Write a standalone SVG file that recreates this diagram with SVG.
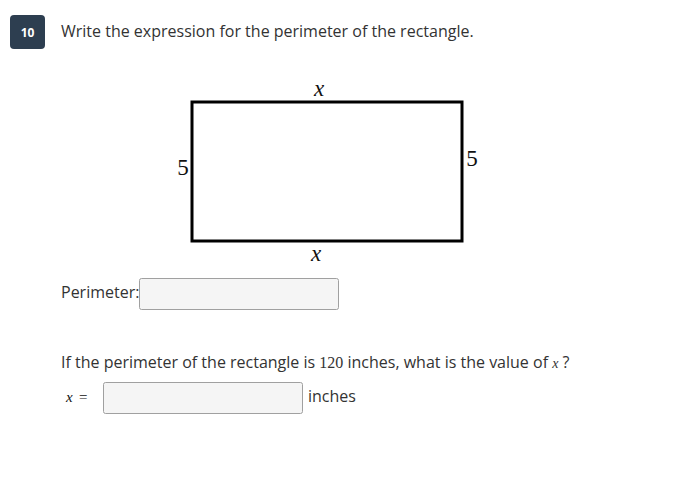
<svg xmlns="http://www.w3.org/2000/svg" width="677" height="484" viewBox="0 0 677 484">
<style>
.t{font-family:"Open Sans","Liberation Sans",sans-serif;font-size:16px;fill:#333}
.m{font-family:"Liberation Serif","DejaVu Serif",serif;fill:#111}
.i{font-family:"Liberation Serif","DejaVu Serif",serif;font-style:italic}
.box{fill:#f5f5f5;stroke:#a0a0a0;stroke-width:1}
</style>
<rect width="677" height="484" fill="#fff"/>
<rect x="10" y="15" width="35" height="34" rx="4" fill="#2d3e50"/>
<text x="27.5" y="37" text-anchor="middle" font-family="'Open Sans','Liberation Sans',sans-serif" font-size="12" font-weight="bold" fill="#fff">10</text>
<text class="t" x="61" y="37">Write the expression for the perimeter of the rectangle.</text>
<rect x="192" y="102" width="270" height="139" fill="none" stroke="#000" stroke-width="3"/>
<text class="m i" x="319" y="96" font-size="23" text-anchor="middle">x</text>
<text class="m i" x="316" y="261" font-size="23" text-anchor="middle">x</text>
<text class="m" x="183" y="175" font-size="23" text-anchor="middle">5</text>
<text class="m" x="472" y="166" font-size="23" text-anchor="middle">5</text>
<text class="t" x="61" y="298">Perimeter:</text>
<rect class="box" x="139.5" y="278.5" width="199" height="31" rx="2"/>
<text class="t" x="61" y="368">If the perimeter of the rectangle is <tspan font-family="'Liberation Serif',serif">120</tspan> inches, what is the value of <tspan class="i" font-size="14">x</tspan> ?</text>
<text class="m" x="66" y="402" font-size="15" fill="#333"><tspan class="i">x</tspan><tspan x="79">=</tspan></text>
<rect class="box" x="103.5" y="382.5" width="199" height="31" rx="2" fill="#fafafa"/>
<text class="t" x="308" y="402">inches</text>
</svg>
